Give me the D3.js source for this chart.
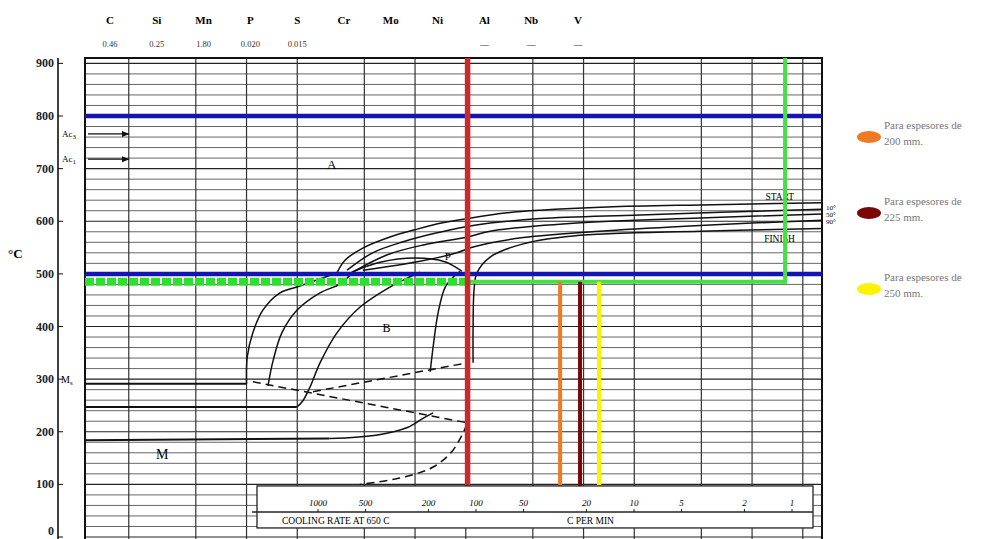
<!DOCTYPE html>
<html>
<head>
<meta charset="utf-8">
<script src="https://cdn.jsdelivr.net/npm/d3@7"></script>
<style>
  body { margin: 0; background: #fff; }
  svg { font-family: "Liberation Serif", "DejaVu Serif", serif; }
</style>
</head>
<body>
<div id="chart"></div>
<script>
// header: steel composition
var elements    = ["C", "Si", "Mn", "P", "S", "Cr", "Mo", "Ni", "Al", "Nb", "V"];
var composition = ["0.46", "0.25", "1.80", "0.020", "0.015", "", "", "", "\u2014", "\u2014", "\u2014"];

// axes
var tempTicks = [0, 100, 200, 300, 400, 500, 600, 700, 800, 900];
var timeGrid  = [2, 5, 10, 20, 50, 100, 200, 500, 1000, 2000, 5000, 10000, 20000];
var rateTicks = [1000, 500, 200, 100, 50, 20, 10, 5, 2, 1];

// transformation curves, [time s, temp C]
var startCurve  = [[34.4,502],[38.4,526],[49,549],[71,570],[103,585],[146,597],[204,605],[352,616],[552,621],[1378,627],[4910,631],[26000,635]];
var curve10     = [[39.5,507],[56,540],[85,561],[135,578],[221,592],[552,605],[2163,612],[26000,623]];
var curve50     = [[43,504],[68,536],[112,555],[204,570],[279,581],[867,596],[4910,606],[26000,614]];
var curve90     = [[49,507],[103,523],[177,540],[221,551],[438,569],[1378,582],[4910,592],[26000,602]];
var finishCurve = [[221,331],[221,400],[224,470],[233,502],[279,532],[438,557],[867,572],[4910,581],[26000,586]];
var pearliteNose = [[42,503],[62,522],[100,530],[150,523],[190,505]];

var msLine     = [[1.1,291],[10,291]];
var bainite1   = [[10,291],[10.1,342],[10.9,388],[12.5,431],[15.8,464],[19.9,475],[27,490],[34.4,502]];
var bainite2   = [[13.4,287],[14.4,336],[16.2,388],[19.9,431],[27.3,464],[36,481],[43,504]];
var bainite3h  = [[1.1,247],[19.9,247]];
var bainite3   = [[19.9,247],[21.5,258],[23.8,285],[27.3,331],[34.4,388],[47.2,437],[71,475],[90,492],[107,503]];
var bainite4   = [[123,314],[128,361],[137,426],[151,475],[170,495],[185,505]];
var lowLineH   = [[1.1,184],[31,187]];
var lowLine    = [[31,187],[60,194],[90,208],[112,226],[128,236]];
var dashDown   = [[10.9,295],[204,217]];
var dashUp     = [[24.8,276],[204,331]];
var dashLow    = [[204,215],[168,165],[128,133],[81,112],[47,100]];

// critical temperatures
var ac3 = 766, ac1 = 718;

// overlay lines
var blueTemps   = [800, 500];
var greenTemp   = 485;
var greenTime   = 15700;
var redTime     = 205;
var plateTimes  = [726, 953, 1236];
var plateLabels = ["200 mm.", "225 mm.", "250 mm."];
var plateColors = ["#f07a22", "#7a0606", "#fff200"];

var width = 988, height = 539;

var x = d3.scaleLog().domain([1.1, 26000]).range([85, 822]);
var y = d3.scaleLinear().domain([0, 800]).range([537, 116]);
var rate = d3.scaleLog().domain([1000, 1]).range([318, 792]);
var head = d3.scalePoint().domain(elements).range([110, 578]);

var svg = d3.select("#chart").append("svg")
    .attr("width", width)
    .attr("height", height);

var tMin = 1.1, tMax = 26000, topT = 910;

// grid
svg.append("g").selectAll("line")
    .data(d3.range(0, 901, 20))
    .enter().append("line")
    .attr("x1", x(tMin)).attr("x2", x(tMax))
    .attr("y1", function(d) { return y(d); })
    .attr("y2", function(d) { return y(d); })
    .attr("stroke", function(d) { return d % 100 === 0 ? "#222" : "#555"; })
    .attr("stroke-width", function(d) { return d % 100 === 0 ? 1.2 : 0.9; });

svg.append("g").selectAll("line")
    .data(timeGrid)
    .enter().append("line")
    .attr("x1", function(d) { return x(d); })
    .attr("x2", function(d) { return x(d); })
    .attr("y1", y(topT)).attr("y2", height)
    .attr("stroke", "#333")
    .attr("stroke-width", 1.2);

// frame
svg.append("path")
    .attr("d", "M" + x(tMin) + "," + height + "V" + y(topT) + "H" + x(tMax) + "V" + height)
    .attr("fill", "none")
    .attr("stroke", "#111")
    .attr("stroke-width", 2);

// y axis
var yAxis = svg.append("g");
yAxis.append("line")
    .attr("x1", 58).attr("x2", 58)
    .attr("y1", y(topT)).attr("y2", height)
    .attr("stroke", "#111").attr("stroke-width", 1.6);
yAxis.selectAll("line.tick")
    .data(tempTicks)
    .enter().append("line")
    .attr("class", "tick")
    .attr("x1", 58).attr("x2", 63)
    .attr("y1", function(d) { return y(d); })
    .attr("y2", function(d) { return y(d); })
    .attr("stroke", "#111");
yAxis.selectAll("text")
    .data(tempTicks)
    .enter().append("text")
    .attr("x", 54)
    .attr("y", function(d) { return Math.min(y(d) + 4, height - 4); })
    .attr("text-anchor", "end")
    .style("font-size", "12px")
    .style("font-weight", "bold")
    .attr("fill", "#222")
    .text(function(d) { return d; });
svg.append("text")
    .attr("x", 8).attr("y", 258)
    .style("font-size", "13px").style("font-weight", "bold")
    .text("\u00b0C");

// header
svg.append("g").selectAll("text")
    .data(elements)
    .enter().append("text")
    .attr("x", function(d) { return head(d); })
    .attr("y", 24)
    .attr("text-anchor", "middle")
    .style("font-size", "11px").style("font-weight", "bold")
    .text(function(d) { return d; });
svg.append("g").selectAll("text")
    .data(composition)
    .enter().append("text")
    .attr("x", function(d, i) { return head(elements[i]); })
    .attr("y", 47)
    .attr("text-anchor", "middle")
    .style("font-size", "8.5px")
    .attr("fill", "#333")
    .text(function(d) { return d; });

// curves
var smooth = d3.line()
    .x(function(d) { return x(d[0]); })
    .y(function(d) { return y(d[1]); })
    .curve(d3.curveCatmullRom.alpha(0.5));
var straight = d3.line()
    .x(function(d) { return x(d[0]); })
    .y(function(d) { return y(d[1]); });

var solidCurves = [startCurve, curve10, curve50, curve90, finishCurve, pearliteNose,
                   bainite1, bainite2, bainite3, bainite4, lowLine];
svg.append("g").selectAll("path")
    .data(solidCurves)
    .enter().append("path")
    .attr("d", smooth)
    .attr("fill", "none")
    .attr("stroke", "#111")
    .attr("stroke-width", 1.5);

svg.append("g").selectAll("path")
    .data([msLine, bainite3h, lowLineH])
    .enter().append("path")
    .attr("d", straight)
    .attr("fill", "none")
    .attr("stroke", "#111")
    .attr("stroke-width", 2);

svg.append("g").selectAll("path")
    .data([dashDown, dashUp])
    .enter().append("path")
    .attr("d", straight)
    .attr("fill", "none")
    .attr("stroke", "#111")
    .attr("stroke-width", 1.5)
    .attr("stroke-dasharray", "8,5");
svg.append("path")
    .datum(dashLow)
    .attr("d", smooth)
    .attr("fill", "none")
    .attr("stroke", "#111")
    .attr("stroke-width", 1.5)
    .attr("stroke-dasharray", "8,5");

// Ac arrows
var defs = svg.append("defs");
defs.append("marker")
    .attr("id", "arr").attr("viewBox", "0 0 10 10")
    .attr("refX", 9).attr("refY", 5)
    .attr("markerWidth", 6).attr("markerHeight", 6)
    .attr("orient", "auto")
    .append("path").attr("d", "M0,1L10,5L0,9Z").attr("fill", "#111");
[ac3, ac1].forEach(function(t, i) {
    svg.append("line")
        .attr("x1", x(tMin) + 3).attr("x2", x(2))
        .attr("y1", y(t)).attr("y2", y(t))
        .attr("stroke", "#111").attr("stroke-width", 1.3)
        .attr("marker-end", "url(#arr)");
    var lab = svg.append("text")
        .attr("x", 62).attr("y", y(t) + 3)
        .style("font-size", "9px");
    lab.append("tspan").text("Ac");
    lab.append("tspan").attr("dy", 2).style("font-size", "7px").text(i === 0 ? "3" : "1");
});

// region labels
var ms = svg.append("text").attr("x", 61).attr("y", 383).style("font-size", "10px");
ms.append("tspan").text("M");
ms.append("tspan").attr("dy", 2).style("font-size", "7px").text("s");

svg.append("text").attr("x", x(30)).attr("y", y(700)).style("font-size", "13px").text("A");
svg.append("text").attr("x", x(150)).attr("y", y(527)).style("font-size", "11px").text("P");
svg.append("text").attr("x", x(64)).attr("y", y(390)).style("font-size", "12px").text("B");
svg.append("text").attr("x", x(2.9)).attr("y", y(148)).style("font-size", "14px").text("M");
svg.append("text").attr("x", x(12000)).attr("y", y(640)).style("font-size", "9.5px").text("START");
svg.append("text").attr("x", x(11800)).attr("y", y(560)).style("font-size", "9.5px").text("FINISH");
["10\u00b0", "50\u00b0", "90\u00b0"].forEach(function(s, i) {
    svg.append("text").attr("x", 826).attr("y", 210 + i * 7)
        .style("font-size", "7px").text(s);
});

// overlays
svg.append("g").selectAll("line")
    .data(blueTemps)
    .enter().append("line")
    .attr("x1", x(tMin)).attr("x2", x(tMax))
    .attr("y1", function(d) { return y(d); })
    .attr("y2", function(d) { return y(d); })
    .attr("stroke", "#1414b4")
    .attr("stroke-width", 4.5);

svg.append("line")
    .attr("x1", x(tMin)).attr("x2", x(redTime))
    .attr("y1", y(greenTemp)).attr("y2", y(greenTemp))
    .attr("stroke", "#2ee02e").attr("stroke-width", 8)
    .attr("stroke-dasharray", "9,2");
svg.append("line")
    .attr("x1", x(redTime)).attr("x2", x(greenTime))
    .attr("y1", y(greenTemp)).attr("y2", y(greenTemp))
    .attr("stroke", "#44e044").attr("stroke-width", 4);
svg.append("line")
    .attr("x1", x(greenTime)).attr("x2", x(greenTime))
    .attr("y1", y(topT)).attr("y2", y(greenTemp) + 2)
    .attr("stroke", "#44e044").attr("stroke-width", 4);

var boxTopT = 97;
svg.append("line")
    .attr("x1", x(redTime)).attr("x2", x(redTime))
    .attr("y1", y(topT)).attr("y2", y(boxTopT))
    .attr("stroke", "#cc2a2a").attr("stroke-width", 5.5);

svg.append("g").selectAll("line")
    .data(plateTimes)
    .enter().append("line")
    .attr("x1", function(d) { return x(d); })
    .attr("x2", function(d) { return x(d); })
    .attr("y1", y(greenTemp))
    .attr("y2", y(boxTopT))
    .attr("stroke", function(d, i) { return plateColors[i]; })
    .attr("stroke-width", 4);

// cooling rate inset
var box = svg.append("g");
box.append("rect")
    .attr("x", 257).attr("y", y(boxTopT))
    .attr("width", 556).attr("height", 42)
    .attr("fill", "#fff").attr("stroke", "#222").attr("stroke-width", 1.3);
box.append("line")
    .attr("x1", 252).attr("x2", 813)
    .attr("y1", 512).attr("y2", 512)
    .attr("stroke", "#222").attr("stroke-width", 1.3);
box.selectAll("line.rt")
    .data(rateTicks)
    .enter().append("line")
    .attr("class", "rt")
    .attr("x1", function(d) { return rate(d); })
    .attr("x2", function(d) { return rate(d); })
    .attr("y1", 509).attr("y2", 512)
    .attr("stroke", "#222");
box.selectAll("text.rl")
    .data(rateTicks)
    .enter().append("text")
    .attr("class", "rl")
    .attr("x", function(d) { return rate(d); })
    .attr("y", 506)
    .attr("text-anchor", "middle")
    .style("font-size", "9px").style("font-style", "italic")
    .text(function(d) { return d; });
box.append("text").attr("x", 282).attr("y", 524)
    .style("font-size", "9.5px").text("COOLING RATE AT 650 C");
box.append("text").attr("x", 567).attr("y", 524)
    .style("font-size", "9.5px").text("C PER MIN");

// legend
var legend = svg.append("g");
plateLabels.forEach(function(lbl, i) {
    var cy = 137 + i * 76;
    legend.append("ellipse")
        .attr("cx", 869).attr("cy", cy)
        .attr("rx", 12).attr("ry", 6)
        .attr("fill", plateColors[i]);
    legend.append("text")
        .attr("x", 884).attr("y", cy - 8)
        .style("font-size", "11px").attr("fill", "#777")
        .text("Para espesores de");
    legend.append("text")
        .attr("x", 884).attr("y", cy + 8)
        .style("font-size", "11px").attr("fill", "#777")
        .text(lbl);
});
</script>
</body>
</html>
